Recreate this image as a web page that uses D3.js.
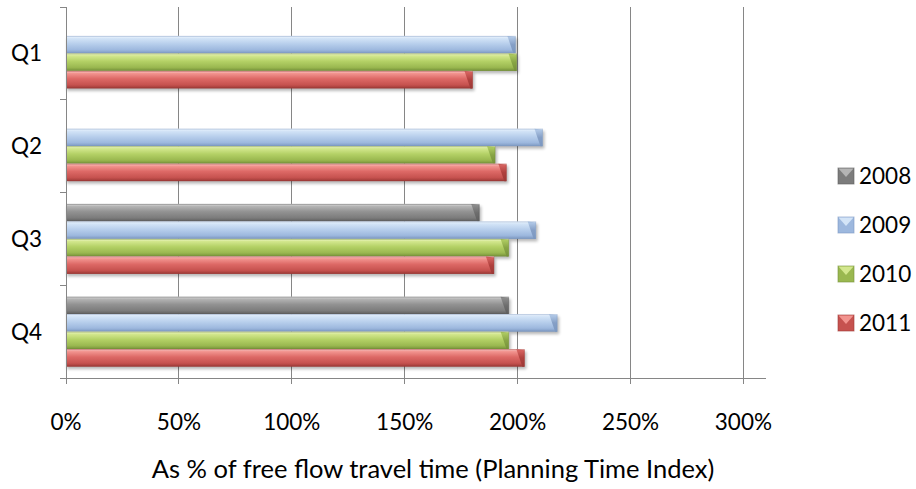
<!DOCTYPE html>
<html>
<head>
<meta charset="utf-8">
<script src="https://cdn.jsdelivr.net/npm/d3@7"></script>
<style>
  html, body { margin: 0; padding: 0; background: #ffffff; }
  svg { display: block; }
  text { font-family: Lato, "Open Sans", sans-serif; fill: #000; }
</style>
</head>
<body>
<svg id="chart" width="916" height="489"></svg>
<script>
// Planning Time Index by quarter, as % of free-flow travel time
const categories = ["Q1", "Q2", "Q3", "Q4"];
const years = ["2008", "2009", "2010", "2011"];
const values2008 = [null, null, 183, 196];
const values2009 = [199, 211, 208, 217.5];
const values2010 = [199.5, 190, 196, 196];
const values2011 = [180, 195, 189.5, 203];
const tickValues = [0, 50, 100, 150, 200, 250, 300];
const axisTitle = "As % of free flow travel time (Planning Time Index)";

const seriesValues = [values2008, values2009, values2010, values2011];

// Bevel shading per series: highlight, light, base, shade, dark, end face
const palettes = [
  ["#E2E2E2", "#B4B4B4", "#929292", "#7C7C7C", "#5E5E5E", "#6E6E6E"],
  ["#F4F9FF", "#D3E4F7", "#B8CFEC", "#9DB8DE", "#7C98C1", "#859FC6"],
  ["#F1F8D2", "#D3E78E", "#B4D166", "#9AB850", "#76913A", "#88A545"],
  ["#FCD0CE", "#F2948F", "#DD6966", "#C6524F", "#9C3936", "#B0413E"]
];

const svg = d3.select("#chart");
const plotLeft = 66;
const plotTop = 7;
const plotRight = 766;
const plotBottom = 378;

const x = d3.scaleLinear().domain([0, 310]).range([plotLeft, plotRight]);
const y = d3.scaleBand().domain(categories).range([plotTop, plotBottom]).padding(0);
const yInner = d3.scaleBand().domain(years).range([0, y.bandwidth()]).paddingInner(0).paddingOuter(0.65);

const defs = svg.append("defs");
palettes.forEach((p, i) => {
  const g = defs.append("linearGradient")
    .attr("id", "bar-grad-" + i)
    .attr("x1", 0).attr("y1", 0).attr("x2", 0).attr("y2", 1);
  [[0, p[0]], [0.14, p[1]], [0.45, p[2]], [0.8, p[3]], [1, p[4]]].forEach(s => {
    g.append("stop").attr("offset", s[0]).attr("stop-color", s[1]);
  });
  const e = defs.append("linearGradient")
    .attr("id", "end-grad-" + i)
    .attr("x1", 0).attr("y1", 0).attr("x2", 0).attr("y2", 1);
  [[0, p[2]], [0.5, p[5]], [1, p[4]]].forEach(s => {
    e.append("stop").attr("offset", s[0]).attr("stop-color", s[1]);
  });
});
const shadow = defs.append("filter").attr("id", "soft-shadow")
  .attr("x", "-10%").attr("y", "-50%").attr("width", "120%").attr("height", "200%");
shadow.append("feGaussianBlur").attr("stdDeviation", 1.6);

// Gridlines
const gridColor = "#868686";
svg.append("g")
  .selectAll("line")
  .data(tickValues.filter(v => v > 0))
  .join("line")
  .attr("x1", d => x(d)).attr("x2", d => x(d))
  .attr("y1", plotTop).attr("y2", plotBottom)
  .attr("stroke", gridColor).attr("stroke-width", 1)
  .attr("shape-rendering", "crispEdges");

// Bars
const bars = [];
categories.forEach((c, ci) => {
  years.forEach((yr, si) => {
    const v = seriesValues[si][ci];
    if (v == null) return;
    bars.push({ c, yr, si, v });
  });
});

const barG = svg.append("g");
const groups = barG.selectAll("g.bar")
  .data(bars)
  .join("g").attr("class", "bar");

const h = yInner.bandwidth();
const y0 = d => y(d.c) + yInner(d.yr);
const bevel = 8;

groups.append("rect")
  .attr("x", x(0) + 1)
  .attr("y", d => y0(d) + 2.5)
  .attr("width", d => x(d.v) - x(0) + 1)
  .attr("height", h)
  .attr("fill", "#000")
  .attr("opacity", 0.28)
  .attr("filter", "url(#soft-shadow)");

groups.append("rect")
  .attr("x", x(0) + 0.5)
  .attr("y", d => y0(d))
  .attr("width", d => x(d.v) - x(0) - 0.5)
  .attr("height", h)
  .attr("fill", d => `url(#bar-grad-${d.si})`);

groups.append("path")
  .attr("d", d => {
    const x1 = x(d.v), t = y0(d), b = t + h;
    return `M${x1 - bevel},${t} L${x1},${t + 1} L${x1},${b} L${x1 - 2},${b} Z`;
  })
  .attr("fill", d => `url(#end-grad-${d.si})`);

groups.append("rect")
  .attr("x", x(0) + 0.5)
  .attr("y", d => y0(d) + 0.5)
  .attr("width", d => x(d.v) - x(0) - 0.5)
  .attr("height", h - 1)
  .attr("fill", "none")
  .attr("stroke", d => palettes[d.si][4])
  .attr("stroke-opacity", 0.45)
  .attr("stroke-width", 1);

// Axes
const axisG = svg.append("g");
axisG.append("line")
  .attr("x1", x(0)).attr("x2", x(0))
  .attr("y1", plotTop).attr("y2", plotBottom)
  .attr("stroke", gridColor).attr("shape-rendering", "crispEdges");
axisG.append("line")
  .attr("x1", x(0) - 6).attr("x2", plotRight)
  .attr("y1", plotBottom).attr("y2", plotBottom)
  .attr("stroke", gridColor).attr("shape-rendering", "crispEdges");

// Category boundary ticks on the left axis
const catEdges = categories.map(c => y(c)).concat([plotBottom]);
axisG.selectAll("line.ytick")
  .data(catEdges)
  .join("line").attr("class", "ytick")
  .attr("x1", x(0) - 6).attr("x2", x(0))
  .attr("y1", d => d).attr("y2", d => d)
  .attr("stroke", gridColor).attr("shape-rendering", "crispEdges");

// Value ticks below the bottom axis
axisG.selectAll("line.xtick")
  .data(tickValues)
  .join("line").attr("class", "xtick")
  .attr("x1", d => x(d)).attr("x2", d => x(d))
  .attr("y1", plotBottom).attr("y2", plotBottom + 6)
  .attr("stroke", gridColor).attr("shape-rendering", "crispEdges");

// Tick labels
svg.append("g")
  .selectAll("text")
  .data(tickValues)
  .join("text")
  .attr("x", d => x(d))
  .attr("y", 430)
  .attr("text-anchor", "middle")
  .style("font-size", "22.5px")
  .text(d => d + "%");

// Category labels
svg.append("g")
  .selectAll("text")
  .data(categories)
  .join("text")
  .attr("x", 42)
  .attr("y", d => y(d) + y.bandwidth() / 2)
  .attr("dy", "0.36em")
  .attr("text-anchor", "end")
  .style("font-size", "22.5px")
  .text(d => d);

// Axis title
svg.append("text")
  .attr("x", 433)
  .attr("y", 478)
  .attr("text-anchor", "middle")
  .style("font-size", "25.5px")
  .text(axisTitle);

// Legend
const legend = svg.append("g");
const legendRows = legend.selectAll("g")
  .data(years)
  .join("g")
  .attr("transform", (d, i) => `translate(838, ${176 + i * 49})`);

legendRows.append("rect")
  .attr("x", 0).attr("y", -8)
  .attr("width", 16).attr("height", 16)
  .attr("fill", (d, i) => palettes[i][3])
  .attr("stroke", (d, i) => palettes[i][4])
  .attr("stroke-opacity", 0.6);
legendRows.append("path")
  .attr("d", "M0.5,-7.5 L15.5,-7.5 L8,1 Z")
  .attr("fill", (d, i) => palettes[i][1]);
legendRows.append("text")
  .attr("x", 21)
  .attr("y", 0)
  .attr("dy", "0.36em")
  .style("font-size", "22.5px")
  .text(d => d);
</script>
</body>
</html>
